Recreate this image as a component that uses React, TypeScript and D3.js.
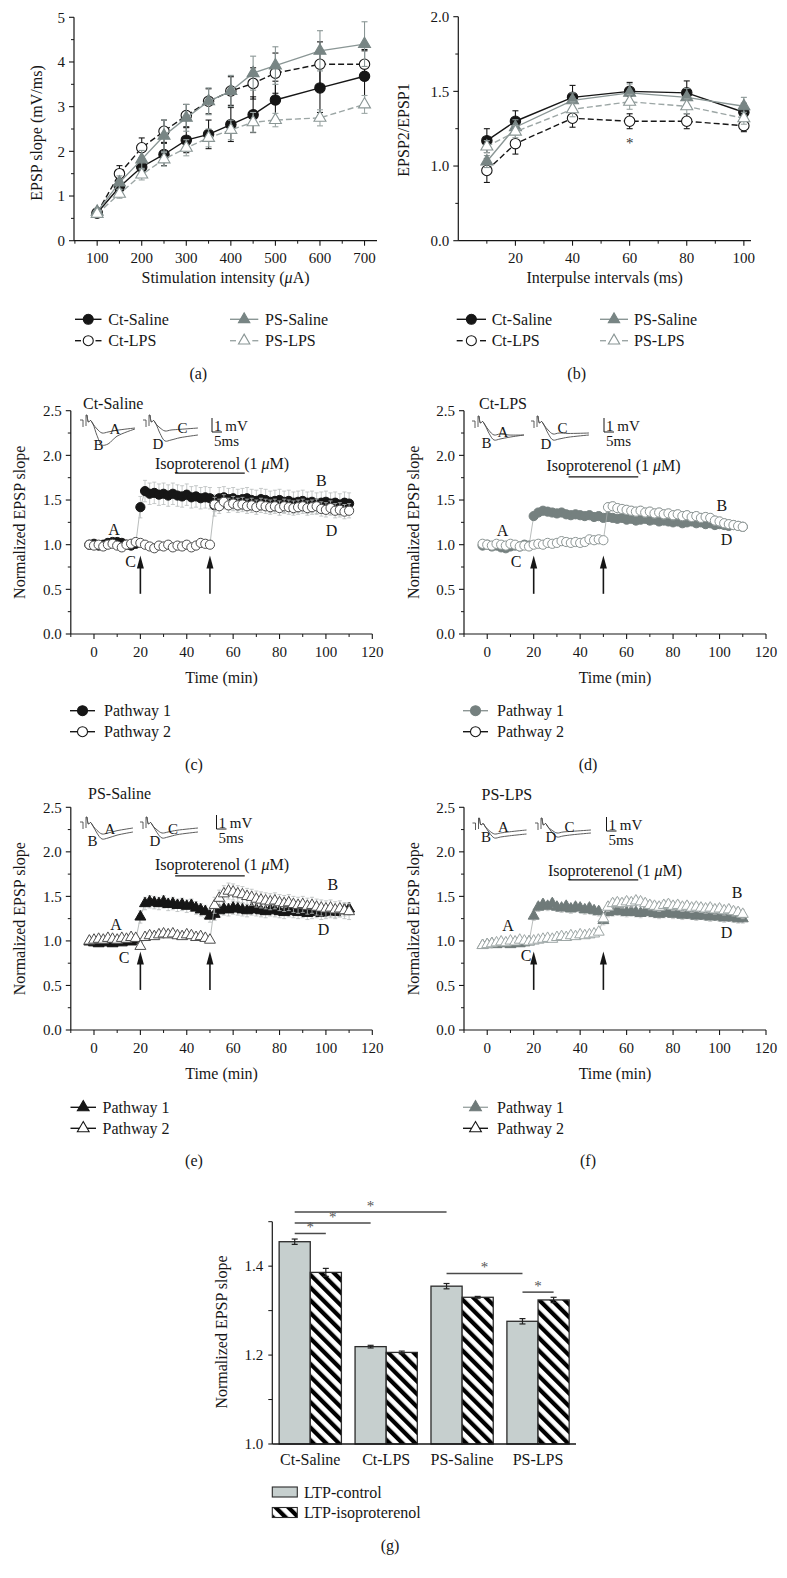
import React from "react";
import * as d3 from "d3";

const FONT = "'Liberation Serif','Times New Roman',Times,serif";
const INK = "#161616";

// ---------------- Panel (a): input/output ----------------
const INTENSITY = [100, 150, 200, 250, 300, 350, 400, 450, 500, 600, 700];
const A_CT_SAL = [0.62, 1.2, 1.65, 1.93, 2.25, 2.38, 2.6, 2.82, 3.15, 3.42, 3.68];
const A_CT_SAL_ERR = [0.08, 0.12, 0.18, 0.25, 0.28, 0.32, 0.38, 0.4, 0.42, 0.55, 0.6];
const A_CT_LPS = [0.62, 1.5, 2.08, 2.45, 2.8, 3.12, 3.35, 3.52, 3.75, 3.95, 3.95];
const A_CT_LPS_ERR = [0.06, 0.18, 0.22, 0.25, 0.25, 0.28, 0.32, 0.35, 0.45, 0.5, 0.3];
const A_PS_SAL = [0.65, 1.3, 1.82, 2.35, 2.75, 3.12, 3.35, 3.75, 3.92, 4.25, 4.4];
const A_PS_SAL_ERR = [0.07, 0.15, 0.2, 0.35, 0.3, 0.3, 0.35, 0.38, 0.42, 0.45, 0.5];
const A_PS_LPS = [0.6, 1.05, 1.48, 1.82, 2.08, 2.3, 2.48, 2.65, 2.7, 2.75, 3.05];
const A_PS_LPS_ERR = [0.06, 0.1, 0.12, 0.15, 0.18, 0.2, 0.22, 0.22, 0.15, 0.18, 0.2];

// ---------------- Panel (b): paired-pulse ----------------
const INTERVALS = [10, 20, 40, 60, 80, 100];
const B_CT_SAL = [1.17, 1.3, 1.46, 1.5, 1.49, 1.36];
const B_CT_SAL_ERR = [0.08, 0.07, 0.08, 0.06, 0.08, 0.06];
const B_CT_LPS = [0.97, 1.15, 1.32, 1.3, 1.3, 1.27];
const B_CT_LPS_ERR = [0.08, 0.07, 0.06, 0.05, 0.05, 0.04];
const B_PS_SAL = [1.03, 1.26, 1.44, 1.49, 1.46, 1.4];
const B_PS_SAL_ERR = [0.04, 0.05, 0.05, 0.06, 0.06, 0.06];
const B_PS_LPS = [1.13, 1.23, 1.38, 1.43, 1.4, 1.32];
const B_PS_LPS_ERR = [0.04, 0.04, 0.05, 0.05, 0.05, 0.04];
const B_Y_TICK_LABELS = ["0.0", "1.0", "1.5", "2.0"];

const GROUP_NAMES = ["Ct-Saline", "Ct-LPS", "PS-Saline", "PS-LPS"];

// ---------------- Panels (c)-(f): LTP time courses ----------------
const TIME = [
  -2, 0, 2, 4, 6, 8, 10, 12, 14, 16,
  18, 20, 22, 24, 26, 28, 30, 32, 34, 36,
  38, 40, 42, 44, 46, 48, 50, 52, 54, 56,
  58, 60, 62, 64, 66, 68, 70, 72, 74, 76,
  78, 80, 82, 84, 86, 88, 90, 92, 94, 96,
  98, 100, 102, 104, 106, 108, 110,
];
const C_P1 = [
  1.0, 1.01, 0.99, 1.0, 1.02, 1.03, 1.03, 1.02, 1.0, 0.99,
  1.01, 1.42, 1.6, 1.57, 1.58, 1.56, 1.57, 1.55, 1.57, 1.55,
  1.54, 1.56, 1.53, 1.54, 1.52, 1.53, 1.52, 1.44, 1.52, 1.53,
  1.51, 1.52, 1.5, 1.51, 1.52, 1.5, 1.49, 1.51, 1.5, 1.48,
  1.49, 1.5, 1.48, 1.49, 1.47, 1.48, 1.49, 1.47, 1.48, 1.46,
  1.47, 1.48, 1.46, 1.47, 1.45, 1.47, 1.46,
];
const C_P2 = [
  1.0, 0.99, 1.0, 0.98, 1.0, 1.01, 0.99, 0.97, 1.0, 1.01,
  1.03, 1.02, 1.0, 0.98, 0.96, 0.99, 0.98, 1.0, 0.97, 0.99,
  0.98, 1.0, 0.97, 0.99, 1.02, 1.01, 1.0, 1.45, 1.43, 1.48,
  1.44, 1.46, 1.44, 1.45, 1.43, 1.44, 1.42, 1.44, 1.43, 1.42,
  1.43, 1.41, 1.43, 1.42, 1.41, 1.42, 1.43, 1.41, 1.42, 1.43,
  1.4, 1.39, 1.41, 1.38, 1.39, 1.37, 1.38,
];
const D_P1 = [
  0.99, 1.0, 0.98, 0.99, 0.97, 0.96, 0.98, 0.99, 0.98, 1.0,
  0.99, 1.32, 1.36, 1.38, 1.37, 1.36, 1.35, 1.36, 1.34, 1.33,
  1.34, 1.33, 1.32, 1.33, 1.31, 1.32, 1.3, 1.31, 1.3, 1.29,
  1.3, 1.28, 1.29, 1.27, 1.28, 1.29, 1.27, 1.28, 1.26, 1.27,
  1.26, 1.25, 1.26, 1.24, 1.25, 1.26, 1.24, 1.25, 1.23, 1.24,
  1.22, 1.23, 1.22, 1.21, 1.22, 1.21, 1.2,
];
const D_P2 = [
  1.01, 1.0, 0.99, 1.01, 1.0, 0.99, 1.01, 1.0, 0.98, 0.99,
  0.98, 1.0, 1.01, 1.0, 1.02, 1.01, 1.02, 1.04, 1.03, 1.02,
  1.03, 1.02, 1.03, 1.06, 1.05, 1.06, 1.05, 1.42, 1.43, 1.41,
  1.4, 1.39, 1.38, 1.37, 1.38, 1.36, 1.37, 1.35, 1.36, 1.34,
  1.35, 1.33, 1.34, 1.32, 1.33, 1.31, 1.32, 1.3, 1.31, 1.3,
  1.27, 1.26, 1.24, 1.23, 1.22, 1.21, 1.2,
];
const E_P1 = [
  0.99, 0.98, 0.97, 0.99, 0.98, 0.97, 0.99, 0.98, 1.0, 0.99,
  1.01, 1.27, 1.42, 1.44, 1.43, 1.42, 1.44, 1.41, 1.42, 1.4,
  1.41, 1.39, 1.4, 1.37, 1.35, 1.33, 1.28, 1.3, 1.34, 1.36,
  1.35, 1.37, 1.36, 1.35, 1.34, 1.36, 1.35, 1.34, 1.33, 1.35,
  1.34, 1.33, 1.32, 1.34, 1.33, 1.32, 1.33, 1.31, 1.32, 1.33,
  1.31, 1.32, 1.33, 1.32, 1.34, 1.35, 1.36,
];
const E_P2 = [
  1.0, 1.01, 1.02, 1.01, 1.03, 1.02, 1.01, 1.03, 1.02, 1.04,
  1.03, 0.94, 1.04, 1.06, 1.05, 1.07, 1.08, 1.07, 1.08, 1.06,
  1.05, 1.07, 1.06, 1.04, 1.05, 1.03, 1.01, 1.4, 1.48, 1.53,
  1.56, 1.55, 1.53, 1.52, 1.5, 1.49, 1.47, 1.46, 1.45, 1.44,
  1.45, 1.43, 1.42, 1.43, 1.41, 1.4, 1.41, 1.39, 1.4, 1.38,
  1.37, 1.36, 1.37, 1.35, 1.36, 1.34, 1.33,
];
const F_P1 = [
  0.95, 0.96, 0.97, 0.96, 0.98, 0.97, 0.96, 0.98, 0.97, 0.98,
  0.99, 1.28, 1.38, 1.41, 1.39, 1.42, 1.38, 1.37, 1.39, 1.36,
  1.38, 1.37, 1.35, 1.37, 1.34, 1.33, 1.23, 1.32, 1.33, 1.34,
  1.33, 1.32, 1.33, 1.32, 1.31, 1.33, 1.32, 1.31, 1.3, 1.31,
  1.32, 1.3, 1.31, 1.29, 1.3, 1.29, 1.28, 1.29, 1.28, 1.27,
  1.28, 1.27, 1.26, 1.27, 1.26, 1.25, 1.25,
];
const F_P2 = [
  0.95, 0.96, 0.97, 0.98, 0.99, 0.98, 1.0, 0.99, 1.01, 1.0,
  0.99, 1.0, 1.01, 1.02, 1.03, 1.02, 1.04, 1.05, 1.04, 1.06,
  1.05, 1.07, 1.06, 1.07, 1.08, 1.1, 1.25, 1.38, 1.42, 1.43,
  1.42, 1.44, 1.43, 1.45, 1.44, 1.42, 1.4, 1.39, 1.38, 1.4,
  1.41, 1.39, 1.4, 1.38, 1.39, 1.37, 1.38, 1.37, 1.36, 1.37,
  1.35, 1.36, 1.34, 1.35, 1.33, 1.32, 1.3,
];
// SEM: [baseline, post-tetanus]
const C_SEM = [[0.03, 0.12], [0.03, 0.08]];
const D_SEM = [[0.02, 0.04], [0.02, 0.05]];
const E_SEM = [[0.03, 0.07], [0.03, 0.09]];
const F_SEM = [[0.02, 0.05], [0.02, 0.05]];
const TETANUS_TIMES = [20, 50];
const ISO_WINDOW = [35, 65];

// ---------------- Panel (g): LTP summary ----------------
const G_CONTROL = [1.455, 1.219, 1.355, 1.276];
const G_CONTROL_ERR = [0.006, 0.003, 0.006, 0.006];
const G_ISO = [1.386, 1.206, 1.33, 1.324];
const G_ISO_ERR = [0.009, 0.003, 0.002, 0.006];
// significance: [group1, bar1, group2, bar2, level]
const G_SIG: [number, number, number, number, number][] = [
  [0, 0, 2, 0, 1.522],
  [0, 0, 1, 0, 1.497],
  [0, 0, 0, 1, 1.4735],
  [2, 0, 3, 0, 1.3836],
  [3, 0, 3, 1, 1.3416],
];

// ======================================================================
const triPath = (area: number) => d3.symbol().type(d3.symbolTriangle).size(area)() as string;

function Marker({ x, y, kind, fill, stroke, size, sw = 1 }: any) {
  if (kind === "circle")
    return <circle cx={x} cy={y} r={size} fill={fill} stroke={stroke} strokeWidth={sw} />;
  return <path d={triPath(size)} transform={`translate(${x},${y})`} fill={fill} stroke={stroke} strokeWidth={sw} />;
}

function AxisLeft({ scale, x, major, minor, fmt, fs = 15, gap = 8, mLen = 5, nLen = 3 }: any) {
  const [r0, r1] = scale.range();
  return (
    <g>
      <line x1={x} x2={x} y1={r0} y2={r1} stroke={INK} strokeWidth={1.2} />
      {major.map((v: number) => (
        <line key={"M" + v} x1={x - mLen} x2={x} y1={scale(v)} y2={scale(v)} stroke={INK} strokeWidth={1.1} />
      ))}
      {minor.map((v: number) => (
        <line key={"m" + v} x1={x - nLen} x2={x} y1={scale(v)} y2={scale(v)} stroke={INK} strokeWidth={1} />
      ))}
      {major.map((v: number, i: number) => (
        <text key={"t" + v} x={x - gap} y={scale(v)} dy="0.35em" textAnchor="end" fontSize={fs} fill={INK}>
          {fmt(v, i)}
        </text>
      ))}
    </g>
  );
}

function AxisBottom({ scale, y, major, minor, fmt, fs = 15, off = 17.5, mLen = 5, nLen = 3, labels = true }: any) {
  const [r0, r1] = scale.range();
  return (
    <g>
      <line x1={r0} x2={r1} y1={y} y2={y} stroke={INK} strokeWidth={1.2} />
      {major.map((v: number) => (
        <line key={"M" + v} x1={scale(v)} x2={scale(v)} y1={y} y2={y + mLen} stroke={INK} strokeWidth={1.1} />
      ))}
      {minor.map((v: number) => (
        <line key={"m" + v} x1={scale(v)} x2={scale(v)} y1={y} y2={y + nLen} stroke={INK} strokeWidth={1} />
      ))}
      {labels &&
        major.map((v: number) => (
          <text key={"t" + v} x={scale(v)} y={y + off} dy="0.35em" textAnchor="middle" fontSize={fs} fill={INK}>
            {fmt(v)}
          </text>
        ))}
    </g>
  );
}

function YTitle({ x, y, children, fs = 16 }: any) {
  return (
    <text transform={`translate(${x},${y}) rotate(-90)`} textAnchor="middle" dy="0.35em" fontSize={fs} fill={INK}>
      {children}
    </text>
  );
}

const STYLES = [
  { kind: "circle", fill: INK, stroke: INK, line: INK, dash: null, size: 5.2, tri: 0 },
  { kind: "circle", fill: "#fff", stroke: INK, line: INK, dash: "6,3", size: 5.2, tri: 0 },
  { kind: "triangle", fill: "#788584", stroke: "#788584", line: "#8a9695", dash: null, size: 62, tri: 1 },
  { kind: "triangle", fill: "#fff", stroke: "#8a9695", line: "#9ca6a5", dash: "6,3", size: 62, tri: 1 },
];

function XYSeries({ xs, vals, errs, x, y, st }: any) {
  const ln = d3.line<number>().x((_, i) => x(xs[i])).y((v) => y(v));
  const sz = st.kind === "circle" ? st.size : st.size;
  return (
    <g>
      <path d={ln(vals) as string} fill="none" stroke={st.line} strokeWidth={1.4} strokeDasharray={st.dash || undefined} />
      {vals.map((v: number, i: number) => {
        const cx = x(xs[i]);
        return (
          <g key={i} stroke={st.kind === "circle" ? INK : st.line} strokeWidth={1.1}>
            <line x1={cx} x2={cx} y1={y(v - errs[i])} y2={y(v + errs[i])} />
            <line x1={cx - 3} x2={cx + 3} y1={y(v - errs[i])} y2={y(v - errs[i])} />
            <line x1={cx - 3} x2={cx + 3} y1={y(v + errs[i])} y2={y(v + errs[i])} />
          </g>
        );
      })}
      {vals.map((v: number, i: number) => (
        <Marker key={"k" + i} x={x(xs[i])} y={y(v)} kind={st.kind} fill={st.fill} stroke={st.stroke} size={sz} sw={1.1} />
      ))}
    </g>
  );
}

function LegendRow({ x1, x2, y, st, label, tx, mk }: any) {
  const mid = (x1 + x2) / 2;
  return (
    <g>
      {st.dash ? (
        <g stroke={st.line} strokeWidth={1.4}>
          <line x1={x1} x2={x1 + 6} y1={y} y2={y} />
          <line x1={x2 - 6} x2={x2} y1={y} y2={y} />
        </g>
      ) : (
        <line x1={x1} x2={x2} y1={y} y2={y} stroke={st.line} strokeWidth={1.4} />
      )}
      <Marker x={mid} y={y} kind={st.kind} fill={st.fill} stroke={st.stroke} size={mk ?? st.size} sw={1.1} />
      <text x={tx} y={y} dy="0.35em" fontSize={16} fill={INK}>
        {label}
      </text>
    </g>
  );
}

// ---------------- Time-course panel ----------------
function tracePath(x0: number, y0: number, w: number, depth: number, end: number) {
  const pts: [number, number][] = [
    [7, 0],
    [8.5, 7],
    [10.5, 5.5],
    [13, 9],
    [17, 9 + (depth - 9) * 0.55],
    [22, depth],
    [28, depth - 1],
    [37, end + (depth - end) * 0.45],
    [w, end],
  ];
  return d3.line().curve(d3.curveCatmullRom)(pts.map((p) => [x0 + p[0], y0 + p[1]] as [number, number])) as string;
}

function Inset({ cfg }: any) {
  const tr = (t: any, d1: number[], d2: number[]) => (
    <g fill="none" stroke="#4a4a4a" strokeWidth={0.9}>
      <path d={`M${t.x},${t.y + 5}H${t.x + 3}V${t.y + 12}M${t.x + 6},${t.y + 11}V${t.y}L${t.x + 7},${t.y}`} />
      <path d={tracePath(t.x, t.y, t.w, d1[0], d1[1])} />
      <path d={tracePath(t.x, t.y, t.w, d2[0], d2[1])} />
    </g>
  );
  const [bx, by] = cfg.bar;
  return (
    <g>
      <text x={cfg.tx} y={cfg.ty} dy="0.35em" fontSize={16} fill={INK}>
        {cfg.title}
      </text>
      {tr(cfg.t1, cfg.dA, cfg.dB)}
      {tr(cfg.t2, cfg.dC, cfg.dD)}
      {(["A", "B", "C", "D"] as const).map((k) => (
        <text key={k} x={cfg["l" + k][0]} y={cfg["l" + k][1]} dy="0.35em" textAnchor="middle" fontSize={15} fill={INK}>
          {k}
        </text>
      ))}
      <path d={`M${bx},${by}V${by + 14}H${bx + 10}`} fill="none" stroke={INK} strokeWidth={1} />
      <text x={bx + 2} y={by + 13} fontSize={15} fill={INK}>
        1 mV
      </text>
      <text x={bx + 2} y={by + 28} fontSize={15} fill={INK}>
        5ms
      </text>
    </g>
  );
}

function TimeSeries({ x, y, vals, sem, postStart, kind, fill, stroke, size }: any) {
  const ln = d3.line<number>().x((_, i) => x(TIME[i])).y((v) => y(v));
  return (
    <g>
      <path d={ln(vals) as string} fill="none" stroke="#a7acab" strokeWidth={0.8} />
      <g stroke="#b9bdbc" strokeWidth={0.8}>
        {vals.map((v: number, i: number) => {
          const e = TIME[i] >= postStart ? sem[1] : sem[0];
          const cx = x(TIME[i]);
          return (
            <g key={i}>
              <line x1={cx} x2={cx} y1={y(v - e)} y2={y(v + e)} />
              <line x1={cx - 2} x2={cx + 2} y1={y(v + e)} y2={y(v + e)} />
              <line x1={cx - 2} x2={cx + 2} y1={y(v - e)} y2={y(v - e)} />
            </g>
          );
        })}
      </g>
      {vals.map((v: number, i: number) => (
        <Marker key={"m" + i} x={x(TIME[i])} y={y(v)} kind={kind} fill={fill} stroke={stroke} size={size} sw={1} />
      ))}
    </g>
  );
}

function TimePanel({ p }: any) {
  const { x, y } = p;
  const x0 = x.range()[0];
  const yAxisBottom = y.range()[0];
  const yMid = (y.range()[0] + y.range()[1]) / 2;
  const xMid = (x.range()[0] + x.range()[1]) / 2;
  const size = p.kind === "circle" ? 4.6 : 52;
  return (
    <g>
      <AxisLeft
        scale={y}
        x={x0}
        major={[0, 0.5, 1, 1.5, 2, 2.5]}
        minor={[0.25, 0.75, 1.25, 1.75, 2.25]}
        fmt={d3.format(".1f")}
        gap={9}
      />
      <AxisBottom
        scale={x}
        y={yAxisBottom}
        major={[0, 20, 40, 60, 80, 100, 120]}
        minor={[-10, 10, 30, 50, 70, 90, 110]}
        fmt={d3.format("d")}
        off={18}
      />
      <YTitle x={p.yTitleX} y={yMid}>Normalized EPSP slope</YTitle>
      <text x={xMid} y={yAxisBottom + 43} dy="0.35em" textAnchor="middle" fontSize={16} fill={INK}>
        Time (min)
      </text>
      <Inset cfg={p.inset} />
      {/* isoproterenol bar */}
      <text x={p.isoCx} y={p.isoCy} dy="0.35em" textAnchor="middle" fontSize={16} fill={INK}>
        Isoproterenol (1 <tspan fontStyle="italic">μ</tspan>M)
      </text>
      <line x1={x(ISO_WINDOW[0])} x2={x(ISO_WINDOW[1])} y1={y(p.isoLevel)} y2={y(p.isoLevel)} stroke={INK} strokeWidth={1.2} />
      <TimeSeries x={x} y={y} vals={p.p1} sem={p.sem[0]} postStart={TETANUS_TIMES[0]} kind={p.kind} fill={p.fill1} stroke={p.stroke1} size={size} />
      <TimeSeries x={x} y={y} vals={p.p2} sem={p.sem[1]} postStart={TETANUS_TIMES[1] + 1} kind={p.kind} fill="#fff" stroke={p.stroke2} size={size} />
      {/* arrows */}
      {TETANUS_TIMES.map((t) => {
        const ax = x(t);
        const tip = y(0.88);
        return (
          <g key={t}>
            <line x1={ax} x2={ax} y1={y(0.45)} y2={tip + 8} stroke={INK} strokeWidth={1.6} />
            <path d={`M${ax},${tip}L${ax - 3.5},${tip + 13}L${ax + 3.5},${tip + 13}Z`} fill={INK} />
          </g>
        );
      })}
      {Object.entries(p.labels).map(([k, v]: any) => (
        <text key={k} x={x(v[0])} y={y(v[1])} dy="0.35em" textAnchor="middle" fontSize={16} fill={INK}>
          {k}
        </text>
      ))}
      {/* legend */}
      {[0, 1].map((i) => {
        const ly = p.legendY + i * 21;
        const mx = (p.leg[0] + p.leg[1]) / 2;
        return (
          <g key={i}>
            <line x1={p.leg[0]} x2={p.leg[1]} y1={ly} y2={ly} stroke={i === 0 ? p.legLine1 : INK} strokeWidth={1.4} />
            <Marker x={mx} y={ly} kind={p.kind} fill={i === 0 ? p.fill1 : "#fff"} stroke={i === 0 ? p.fill1 : INK} size={p.kind === "circle" ? 5 : 60} sw={1.1} />
            <text x={p.legText} y={ly} dy="0.35em" fontSize={16} fill={INK}>
              {i === 0 ? "Pathway 1" : "Pathway 2"}
            </text>
          </g>
        );
      })}
      <text x={p.tagX} y={p.tagY} dy="0.35em" textAnchor="middle" fontSize={16} fill={INK}>
        {p.tag}
      </text>
    </g>
  );
}

export default function App() {
  // ---------- (a) ----------
  const xA = d3.scaleLinear().domain([48, 728]).range([74, 377]);
  const yA = d3.scaleLinear().domain([0, 5]).range([240.7, 17.3]);
  const aSeries = [
    [A_CT_SAL, A_CT_SAL_ERR],
    [A_CT_LPS, A_CT_LPS_ERR],
    [A_PS_SAL, A_PS_SAL_ERR],
    [A_PS_LPS, A_PS_LPS_ERR],
  ];
  // ---------- (b) ----------
  const xB = d3.scaleLinear().domain([0, 102.5]).range([458.3, 751]);
  const yB = d3.scaleLinear().domain([0.5, 2.0]).range([240.7, 16.7]);
  const bSeries = [
    [B_CT_SAL, B_CT_SAL_ERR],
    [B_CT_LPS, B_CT_LPS_ERR],
    [B_PS_SAL, B_PS_SAL_ERR],
    [B_PS_LPS, B_PS_LPS_ERR],
  ];

  // ---------- (c)-(f) ----------
  const xL = d3.scaleLinear().domain([-10, 120]).range([70.8, 372.3]);
  const xR = d3.scaleLinear().domain([-10, 120]).range([464, 766]);
  const yTop = d3.scaleLinear().domain([0, 2.5]).range([634, 410.7]);
  const yBot = d3.scaleLinear().domain([0, 2.5]).range([1030, 807.3]);

  const panels = [
    {
      x: xL, y: yTop, p1: C_P1, p2: C_P2, sem: C_SEM, kind: "circle", fill1: INK, stroke1: INK, stroke2: "#4d4d4d",
      yTitleX: 19, isoCx: 222, isoCy: 463.5, isoLevel: 1.8, legendY: 710.7, leg: [70, 95], legText: 104, legLine1: INK,
      tag: "(c)", tagX: 194, tagY: 764,
      labels: { A: [8.6, 1.17], C: [15.8, 0.81], B: [98, 1.72], D: [102.4, 1.16] },
      inset: {
        title: "Ct-Saline", tx: 83, ty: 403.5, t1: { x: 80, y: 415, w: 55 }, t2: { x: 143, y: 415, w: 55 },
        dA: [18, 13], dB: [30, 14], dC: [16, 13], dD: [26, 20],
        lA: [115, 428.5], lB: [98.5, 445], lC: [182.5, 428], lD: [158, 443.5], bar: [212, 418],
      },
    },
    {
      x: xR, y: yTop, p1: D_P1, p2: D_P2, sem: D_SEM, kind: "circle", fill1: "#75807f", stroke1: "#75807f", stroke2: "#8d9695",
      yTitleX: 413, isoCx: 613.5, isoCy: 465, isoLevel: 1.76, legendY: 710.7, leg: [463, 488], legText: 497, legLine1: "#8d9695",
      tag: "(d)", tagX: 588, tagY: 764,
      labels: { A: [6.6, 1.16], C: [12.4, 0.81], B: [101, 1.44], D: [103, 1.06] },
      inset: {
        title: "Ct-LPS", tx: 479, ty: 403.5, t1: { x: 472, y: 416, w: 52 }, t2: { x: 531, y: 416, w: 58 },
        dA: [19, 19], dB: [24, 19], dC: [18, 17], dD: [24, 19],
        lA: [503, 431.5], lB: [486.5, 443], lC: [562.5, 428], lD: [546, 443.5], bar: [604, 418],
      },
    },
    {
      x: xL, y: yBot, p1: E_P1, p2: E_P2, sem: E_SEM, kind: "triangle", fill1: INK, stroke1: INK, stroke2: "#4d4d4d",
      yTitleX: 19, isoCx: 222, isoCy: 864, isoLevel: 1.73, legendY: 1107.3, leg: [70.5, 96], legText: 102.5, legLine1: INK,
      tag: "(e)", tagX: 194, tagY: 1160.7,
      labels: { A: [9.5, 1.18], C: [13, 0.82], B: [103, 1.63], D: [99, 1.13] },
      inset: {
        title: "PS-Saline", tx: 88, ty: 793.5, t1: { x: 80, y: 817, w: 53 }, t2: { x: 140, y: 817, w: 58 },
        dA: [17, 11], dB: [22, 15], dC: [16, 11], dD: [21, 15],
        lA: [110, 828.5], lB: [92.5, 841], lC: [173, 828.5], lD: [155, 841], bar: [216.5, 815],
      },
    },
    {
      x: xR, y: yBot, p1: F_P1, p2: F_P2, sem: F_SEM, kind: "triangle", fill1: "#6f7a79", stroke1: "#6f7a79", stroke2: "#9da6a5",
      yTitleX: 413, isoCx: 615, isoCy: 870, isoLevel: 1.685, legendY: 1107.3, leg: [463, 488], legText: 497, legLine1: "#9da6a5",
      tag: "(f)", tagX: 588, tagY: 1160.7,
      labels: { A: [9, 1.17], C: [16.7, 0.84], B: [107.5, 1.54], D: [103, 1.1] },
      inset: {
        title: "PS-LPS", tx: 481.5, ty: 794, t1: { x: 472.5, y: 818, w: 54 }, t2: { x: 535, y: 818, w: 56 },
        dA: [16, 12], dB: [20, 16], dC: [15, 12], dD: [19, 15],
        lA: [503.5, 826.5], lB: [486, 837], lC: [569.5, 826.5], lD: [551, 837], bar: [606.5, 817],
      },
    },
  ];

  // ---------- (g) ----------
  const xG = d3.scaleBand().domain(GROUP_NAMES).range([272.3, 576]).paddingInner(0.18).paddingOuter(0.09);
  const sub = d3.scaleBand().domain(["control", "iso"]).range([0, xG.bandwidth()]);
  const yG = d3.scaleLinear().domain([1.0, 1.5]).range([1444, 1221.7]);
  const barCx = (g: number, b: number) => (xG(GROUP_NAMES[g]) as number) + (sub(b === 0 ? "control" : "iso") as number) + sub.bandwidth() / 2;
  const gBars = [
    { key: "control", vals: G_CONTROL, errs: G_CONTROL_ERR, fill: "#c6cfce" },
    { key: "iso", vals: G_ISO, errs: G_ISO_ERR, fill: "url(#hatch)" },
  ];

  return (
    <svg
      width={787}
      height={1578}
      viewBox="0 0 787 1578"
      style={{ position: "absolute", left: 0, top: 0, background: "#fff" }}
      fontFamily={FONT}
    >
      <defs>
        <pattern id="hatch" patternUnits="userSpaceOnUse" width={9} height={9} patternTransform="rotate(-45)">
          <rect width={9} height={9} fill="#fff" />
          <rect width={4.2} height={9} fill="#000" />
        </pattern>
      </defs>
      <rect width={787} height={1578} fill="#fff" />

      {/* ================= (a) ================= */}
      <AxisLeft scale={yA} x={74} major={[0, 1, 2, 3, 4, 5]} minor={[0.5, 1.5, 2.5, 3.5, 4.5]} fmt={d3.format("d")} gap={9} />
      <AxisBottom
        scale={xA}
        y={240.7}
        major={[100, 200, 300, 400, 500, 600, 700]}
        minor={[50, 150, 250, 350, 450, 550, 650]}
        fmt={d3.format("d")}
      />
      <YTitle x={36} y={133}>EPSP slope (mV/ms)</YTitle>
      <text x={225.5} y={277} dy="0.35em" textAnchor="middle" fontSize={16} fill={INK}>
        Stimulation intensity (<tspan fontStyle="italic">μ</tspan>A)
      </text>
      {aSeries.map(([v, e], i) => (
        <XYSeries key={i} xs={INTENSITY} vals={v} errs={e} x={xA} y={yA} st={STYLES[i]} />
      ))}
      <LegendRow x1={75} x2={101.5} y={319.3} st={STYLES[0]} label={GROUP_NAMES[0]} tx={108.3} mk={5} />
      <LegendRow x1={75} x2={101.5} y={340.7} st={STYLES[1]} label={GROUP_NAMES[1]} tx={108.3} mk={5} />
      <LegendRow x1={230} x2={258.3} y={319.3} st={STYLES[2]} label={GROUP_NAMES[2]} tx={265} mk={56} />
      <LegendRow x1={230} x2={258.3} y={340.7} st={STYLES[3]} label={GROUP_NAMES[3]} tx={265} mk={56} />
      <text x={198.3} y={373.3} dy="0.35em" textAnchor="middle" fontSize={16} fill={INK}>
        (a)
      </text>

      {/* ================= (b) ================= */}
      <AxisLeft
        scale={yB}
        x={458.3}
        major={[0.5, 1.0, 1.5, 2.0]}
        minor={[0.75, 1.25, 1.75]}
        fmt={(_: number, i: number) => B_Y_TICK_LABELS[i]}
        gap={9}
      />
      <AxisBottom scale={xB} y={240.7} major={[20, 40, 60, 80, 100]} minor={[10, 30, 50, 70, 90]} fmt={d3.format("d")} />
      <YTitle x={403.5} y={130}>EPSP2/EPSP1</YTitle>
      <text x={604.6} y={277} dy="0.35em" textAnchor="middle" fontSize={16} fill={INK}>
        Interpulse intervals (ms)
      </text>
      {bSeries.map(([v, e], i) => (
        <XYSeries key={i} xs={INTERVALS} vals={v} errs={e} x={xB} y={yB} st={STYLES[i]} />
      ))}
      <text x={xB(60)} y={yB(1.174)} dy="0.5em" textAnchor="middle" fontSize={15} fill="#333">
        *
      </text>
      <LegendRow x1={456.7} x2={486} y={319.3} st={STYLES[0]} label={GROUP_NAMES[0]} tx={491.7} mk={5} />
      <LegendRow x1={456.7} x2={486} y={340.7} st={STYLES[1]} label={GROUP_NAMES[1]} tx={491.7} mk={5} />
      <LegendRow x1={600} x2={628} y={319.3} st={STYLES[2]} label={GROUP_NAMES[2]} tx={634} mk={56} />
      <LegendRow x1={600} x2={628} y={340.7} st={STYLES[3]} label={GROUP_NAMES[3]} tx={634} mk={56} />
      <text x={576.7} y={373.3} dy="0.35em" textAnchor="middle" fontSize={16} fill={INK}>
        (b)
      </text>

      {/* ================= (c)-(f) ================= */}
      {panels.map((p, i) => (
        <TimePanel key={i} p={p} />
      ))}

      {/* ================= (g) ================= */}
      <AxisLeft scale={yG} x={272.3} major={[1.0, 1.2, 1.4]} minor={[1.1, 1.3, 1.5]} fmt={d3.format(".1f")} gap={9} mLen={4} nLen={4} />
      {gBars.map((b, bi) => (
        <g key={b.key}>
          {GROUP_NAMES.map((g, gi) => {
            const bx = (xG(g) as number) + (sub(b.key) as number);
            return (
              <rect
                key={g}
                x={bx}
                y={yG(b.vals[gi])}
                width={sub.bandwidth()}
                height={yG(1.0) - yG(b.vals[gi])}
                fill={b.fill}
                stroke="#2b2b2b"
                strokeWidth={1.3}
              />
            );
          })}
          {GROUP_NAMES.map((g, gi) => {
            const cx = barCx(gi, bi);
            const lo = yG(b.vals[gi] - b.errs[gi]);
            const hi = yG(b.vals[gi] + b.errs[gi]);
            return (
              <g key={"e" + g} stroke="#222" strokeWidth={1.2}>
                <line x1={cx} x2={cx} y1={lo} y2={hi} />
                <line x1={cx - 3} x2={cx + 3} y1={hi} y2={hi} />
                <line x1={cx - 3} x2={cx + 3} y1={lo} y2={lo} />
              </g>
            );
          })}
        </g>
      ))}
      <line x1={272.3} x2={576} y1={yG(1.0)} y2={yG(1.0)} stroke={INK} strokeWidth={1.3} />
      {GROUP_NAMES.map((g) => (
        <text key={g} x={(xG(g) as number) + xG.bandwidth() / 2} y={1459.5} dy="0.35em" textAnchor="middle" fontSize={16} fill={INK}>
          {g}
        </text>
      ))}
      {G_SIG.map(([g1, b1, g2, b2, lvl], i) => {
        const xa = barCx(g1, b1);
        const xb = barCx(g2, b2);
        return (
          <g key={i}>
            <line x1={xa} x2={xb} y1={yG(lvl)} y2={yG(lvl)} stroke="#4a4a4a" strokeWidth={1.5} />
            <text x={(xa + xb) / 2} y={yG(lvl) - 1} textAnchor="middle" fontSize={15} fill="#555">
              *
            </text>
          </g>
        );
      })}
      <YTitle x={221} y={1332}>Normalized EPSP slope</YTitle>
      <rect x={272.3} y={1487} width={25} height={10} fill="#c6cfce" stroke="#2b2b2b" strokeWidth={1.1} />
      <text x={304} y={1492} dy="0.35em" fontSize={16} fill={INK}>
        LTP-control
      </text>
      <rect x={272.3} y={1507.5} width={25} height={10} fill="url(#hatch)" stroke="#2b2b2b" strokeWidth={1.1} />
      <text x={304} y={1512.7} dy="0.35em" fontSize={16} fill={INK}>
        LTP-isoproterenol
      </text>
      <text x={390} y={1545} dy="0.35em" textAnchor="middle" fontSize={16} fill={INK}>
        (g)
      </text>
    </svg>
  );
}
